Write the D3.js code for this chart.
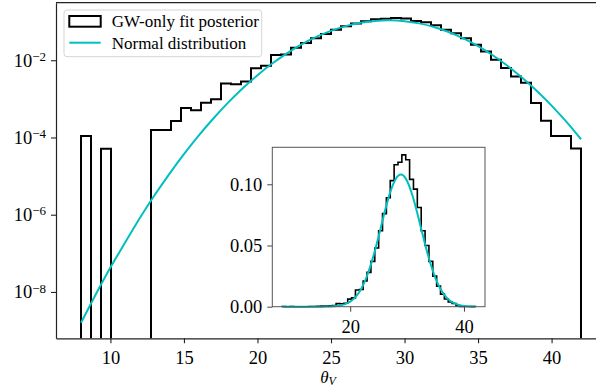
<!DOCTYPE html>
<html><head><meta charset="utf-8">
<script src="https://cdn.jsdelivr.net/npm/d3@7"></script>
<style>body{margin:0;background:#fff}</style>
</head><body>
<svg id="c" width="596" height="389"></svg>
<script>
// ---- data ----
const binStart = 8.0;
const binWidth = 0.68;
const histDensity = [1.09e-4, 0, 5.1e-5, 0, 0, 0, 0,
  1.56e-4, 1.56e-4, 2.68e-4, 5.8e-4, 5.1e-4, 7.9e-4, 9.7e-4,
  2.5e-3, 2.4e-3, 2.8e-3, 6.2e-3, 7.2e-3, 0.0137,
  0.0140, 0.021, 0.028, 0.037, 0.048, 0.062, 0.076, 0.089, 0.103, 0.116,
  0.118, 0.124, 0.120, 0.104, 0.096, 0.081, 0.062, 0.050, 0.037, 0.025,
  0.0168, 0.0103, 0.0063, 0.0038, 0.0026, 7.8e-4, 2.7e-4, 1.09e-4, 1.09e-4, 5.2e-5];
const curveX = [8,9,10,11,12,13,14,15,16,17,18,19,20,21,22,23,24,25,26,27,28,29,30,31,32,33,34,35,36,37,38,39,40,41,42];
const curveY = [1.6e-9, 8.6e-9, 4.3e-8, 1.9e-7, 8.2e-7, 3.2e-6, 1.13e-5, 3.7e-5, 1.12e-4, 3.1e-4,
  8.0e-4, 1.89e-3, 4.1e-3, 8.2e-3, 0.0151, 0.0257, 0.0401, 0.0576, 0.0763, 0.0930,
  0.1044, 0.1080, 0.1027, 0.0900, 0.0726, 0.0540, 0.0369, 0.0232, 0.0135, 0.0072,
  0.0035, 0.0016, 6.7e-4, 2.56e-4, 9.0e-5];
const mainXTicks = [10, 15, 20, 25, 30, 35, 40];
const mainYTickExponents = [-8, -6, -4, -2];
const insetXTicks = [20, 40];
const insetYTicks = [0.00, 0.05, 0.10];
const legendLabels = ["GW-only fit posterior", "Normal distribution"];
const xLabel = "θ";
const xLabelSub = "V";

// ---- setup ----
const FONT = "'Liberation Serif', 'Times New Roman', serif";
const FS = 17;
const TFS = 18.5;
const CYAN = "#00BFBF";
const svg = d3.select("#c").style("font-family", FONT);

const M = {left: 56, right: 606, top: 2.7, bottom: 338.3};
const x = d3.scaleLinear().domain([6.3, 43.7]).range([M.left, M.right]);
const y = d3.scaleLog().domain([Math.pow(10, -9.2), Math.pow(10, -0.51)]).range([M.bottom, M.top]);

const edges = d3.range(histDensity.length + 1).map(i => binStart + i * binWidth);
function stepPoints(vals) {
  const pts = [[edges[0], 0]];
  vals.forEach((v, i) => { pts.push([edges[i], v]); pts.push([edges[i + 1], v]); });
  pts.push([edges[edges.length - 1], 0]);
  return pts;
}
const steps = stepPoints(histDensity);

svg.append("defs").append("clipPath").attr("id", "mainclip")
  .append("rect").attr("x", M.left).attr("y", M.top)
  .attr("width", M.right - M.left).attr("height", M.bottom - M.top);

const main = svg.append("g").attr("clip-path", "url(#mainclip)");
main.append("path")
  .attr("d", d3.line().x(d => x(d[0])).y(d => d[1] > 0 ? y(d[1]) : M.bottom + 20)(steps))
  .attr("fill", "none").attr("stroke", "#000").attr("stroke-width", 2).attr("stroke-linejoin", "miter");
main.append("path")
  .attr("d", d3.line().x((d, i) => x(curveX[i])).y(d => y(d)).curve(d3.curveNatural)(curveY))
  .attr("fill", "none").attr("stroke", CYAN).attr("stroke-width", 2);

// axes
const xAxis = svg.append("g").attr("transform", `translate(0,${M.bottom})`)
  .call(d3.axisBottom(x).tickValues(mainXTicks).tickSize(5).tickPadding(7.5).tickSizeOuter(0).tickFormat(d3.format("d")));
const yAxis = svg.append("g").attr("transform", `translate(${M.left},0)`)
  .call(d3.axisLeft(y).tickValues(mainYTickExponents.map(e => Math.pow(10, e))).tickSize(5).tickPadding(5).tickSizeOuter(0));
[xAxis, yAxis].forEach(a => {
  a.selectAll("text").attr("font-family", FONT).attr("font-size", TFS).attr("fill", "#000");
  a.selectAll("line").attr("stroke", "#222").attr("stroke-width", 1.1);
  a.select(".domain").attr("stroke", "#222").attr("stroke-width", 1.2);
});
yAxis.selectAll(".tick text").each(function(d, i) {
  const t = d3.select(this); t.text(null);
  t.append("tspan").text("10");
  t.append("tspan").attr("dy", "-0.45em").attr("font-size", "13px").text("−" + Math.abs(mainYTickExponents[i]));
});
// top spine
svg.append("line").attr("x1", M.left).attr("x2", M.right).attr("y1", M.top).attr("y2", M.top)
  .attr("stroke", "#222").attr("stroke-width", 1.2);

// x label
const xl = svg.append("text").attr("x", 328).attr("y", 382.5).attr("text-anchor", "middle")
  .attr("font-size", 17).attr("font-style", "italic");
xl.append("tspan").text(xLabel);
xl.append("tspan").attr("dy", "0.2em").attr("font-size", "12px").text(xLabelSub);

// legend
const lg = svg.append("g");
lg.append("rect").attr("x", 64).attr("y", 10).attr("width", 197.7).attr("height", 46.7)
  .attr("rx", 3).attr("fill", "#fff").attr("fill-opacity", 0.8).attr("stroke", "#d5d5d5").attr("stroke-width", 1);
lg.append("rect").attr("x", 69.3).attr("y", 16).attr("width", 31.4).attr("height", 10.7)
  .attr("fill", "none").attr("stroke", "#000").attr("stroke-width", 2);
lg.append("line").attr("x1", 69.3).attr("x2", 100.7).attr("y1", 42.7).attr("y2", 42.7)
  .attr("stroke", CYAN).attr("stroke-width", 2);
lg.append("text").attr("x", 111.7).attr("y", 21.5).attr("dy", "0.35em").attr("font-size", FS).text(legendLabels[0]);
lg.append("text").attr("x", 111.7).attr("y", 42.7).attr("dy", "0.35em").attr("font-size", FS).text(legendLabels[1]);

// ---- inset ----
const I = {left: 272.3, right: 485, top: 147.3, bottom: 306.7};
const xi = d3.scaleLinear().domain([6.3, 43.7]).range([I.left, I.right]);
const yi = d3.scaleLinear().domain([0, 0.1302]).range([I.bottom, I.top]);
const inset = svg.append("g");
inset.append("rect").attr("x", I.left).attr("y", I.top).attr("width", I.right - I.left).attr("height", I.bottom - I.top)
  .attr("fill", "#fff");
inset.append("path")
  .attr("d", d3.line().x(d => xi(d[0])).y(d => yi(d[1]))(steps))
  .attr("fill", "none").attr("stroke", "#000").attr("stroke-width", 1.6);
inset.append("path")
  .attr("d", d3.line().x((d, i) => xi(curveX[i])).y(d => yi(d)).curve(d3.curveNatural)(curveY))
  .attr("fill", "none").attr("stroke", CYAN).attr("stroke-width", 2);
inset.append("rect").attr("x", I.left).attr("y", I.top).attr("width", I.right - I.left).attr("height", I.bottom - I.top)
  .attr("fill", "none").attr("stroke", "#555").attr("stroke-width", 1);
const ixa = inset.append("g").attr("transform", `translate(0,${I.bottom})`)
  .call(d3.axisBottom(xi).tickValues(insetXTicks).tickSize(5).tickPadding(8).tickSizeOuter(0).tickFormat(d3.format("d")));
const iya = inset.append("g").attr("transform", `translate(${I.left},0)`)
  .call(d3.axisLeft(yi).tickValues(insetYTicks).tickSize(5).tickPadding(5).tickSizeOuter(0).tickFormat(d3.format(".2f")));
[ixa, iya].forEach(a => {
  a.selectAll("text").attr("font-family", FONT).attr("font-size", TFS).attr("fill", "#000");
  a.selectAll("line").attr("stroke", "#444").attr("stroke-width", 1);
  a.select(".domain").remove();
});
</script>
</body></html>
